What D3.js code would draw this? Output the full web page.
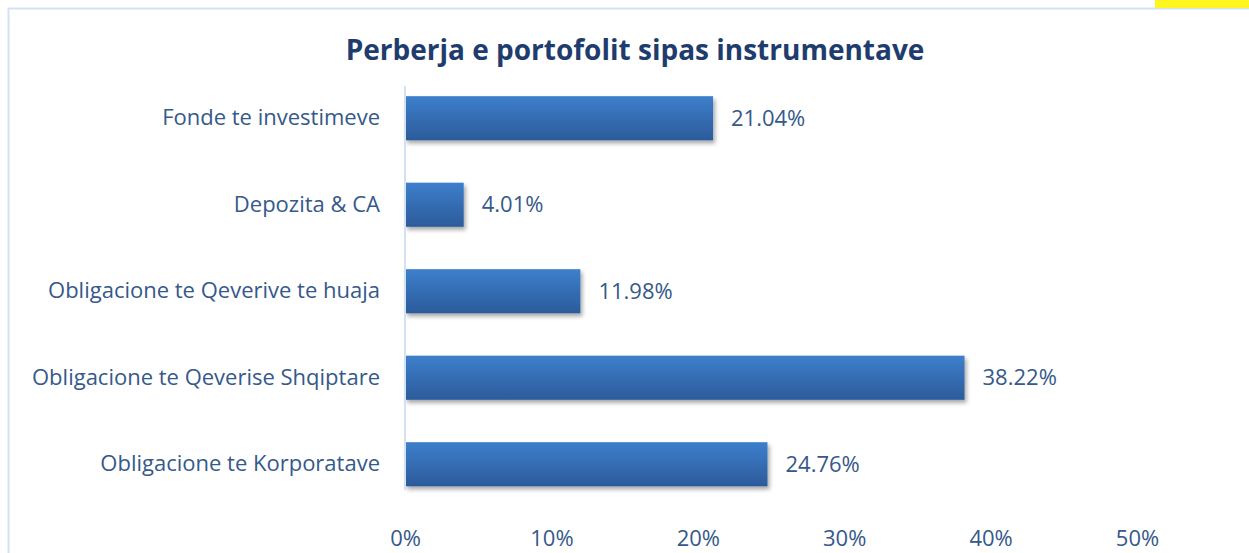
<!DOCTYPE html>
<html>
<head>
<meta charset="utf-8">
<script src="https://cdn.jsdelivr.net/npm/d3@7"></script>
<style>
  body { margin: 0; background: #fff; }
  svg { display: block; font-family: "Open Sans", "Noto Sans", sans-serif; }
</style>
</head>
<body>
<svg id="chart" width="1249" height="553"></svg>
<script>
// chart data (first item is the top bar)
const categories = [
  "Fonde te investimeve",
  "Depozita & CA",
  "Obligacione te Qeverive te huaja",
  "Obligacione te Qeverise Shqiptare",
  "Obligacione te Korporatave"
];
const shares = [21.04, 4.01, 11.98, 38.22, 24.76];
const tickValues = [0, 10, 20, 30, 40, 50];
const chartTitle = "Perberja e portofolit sipas instrumentave";

const svg = d3.select("#chart");
const textColor = "#35598a";

// frame + yellow corner block
svg.append("rect")
  .attr("x", 0).attr("y", 0).attr("width", 1249).attr("height", 553)
  .attr("fill", "#fff");
svg.append("rect")
  .attr("x", 8.5).attr("y", 8.5).attr("width", 1260).attr("height", 560)
  .attr("fill", "none").attr("stroke", "#d3e2f2").attr("stroke-width", 2);
svg.append("rect")
  .attr("x", 1155).attr("y", 0).attr("width", 94).attr("height", 8)
  .attr("fill", "#fff51f");

// gradient + shadow for bars
const defs = svg.append("defs");
const grad = defs.append("linearGradient")
  .attr("id", "barGrad").attr("x1", 0).attr("y1", 0).attr("x2", 0).attr("y2", 1);
grad.append("stop").attr("offset", "0%").attr("stop-color", "#3d7fcc");
grad.append("stop").attr("offset", "100%").attr("stop-color", "#2c5b9a");
const shadow = defs.append("filter").attr("id", "shadow")
  .attr("x", "-10%").attr("y", "-20%").attr("width", "130%").attr("height", "160%");
shadow.append("feDropShadow")
  .attr("dx", 2).attr("dy", 3).attr("stdDeviation", 2)
  .attr("flood-color", "#000").attr("flood-opacity", 0.35);

// scales
const x = d3.scaleLinear().domain([0, 50]).range([405, 1137]);
const y = d3.scaleBand()
  .domain(categories)
  .range([75, 507.5])
  .paddingInner(0.49)
  .paddingOuter(0.245);

// title
svg.append("text")
  .attr("x", 635).attr("y", 60)
  .attr("text-anchor", "middle")
  .style("font-size", "28px")
  .style("font-weight", "bold")
  .style("fill", "#1f3c6e")
  .text(chartTitle);

// bars
svg.selectAll(".bar")
  .data(categories)
  .enter()
  .append("rect")
  .attr("class", "bar")
  .attr("x", x(0))
  .attr("y", (d) => y(d))
  .attr("width", (d, i) => x(shares[i]) - x(0))
  .attr("height", y.bandwidth())
  .attr("fill", "url(#barGrad)")
  .attr("filter", "url(#shadow)");

// vertical axis line
svg.append("line")
  .attr("x1", x(0)).attr("x2", x(0))
  .attr("y1", 86).attr("y2", 490)
  .attr("stroke", "#d3e2f2").attr("stroke-width", 2);

// category labels
const yAxis = svg.append("g")
  .attr("transform", `translate(380,0)`)
  .call(d3.axisLeft(y).tickSize(0).tickPadding(0));
yAxis.select(".domain").remove();
yAxis.selectAll("text")
  .style("font-family", "\"Open Sans\", sans-serif")
  .style("font-size", "22px")
  .style("fill", textColor);

// value labels
svg.selectAll(".value")
  .data(categories)
  .enter()
  .append("text")
  .attr("class", "value")
  .attr("x", (d, i) => x(shares[i]) + 18)
  .attr("y", (d) => y(d) + y.bandwidth() / 2)
  .attr("dy", "0.35em")
  .style("font-size", "22px")
  .style("fill", textColor)
  .text((d, i) => shares[i].toFixed(2) + "%");

// x axis tick labels
const xAxis = svg.append("g")
  .attr("transform", "translate(0,538)")
  .call(d3.axisBottom(x).tickValues(tickValues).tickSize(0).tickPadding(0)
    .tickFormat((d) => d + "%"));
xAxis.select(".domain").remove();
xAxis.selectAll("text")
  .attr("dy", "0.35em")
  .style("font-family", "\"Open Sans\", sans-serif")
  .style("font-size", "22px")
  .style("fill", textColor);
</script>
</body>
</html>
